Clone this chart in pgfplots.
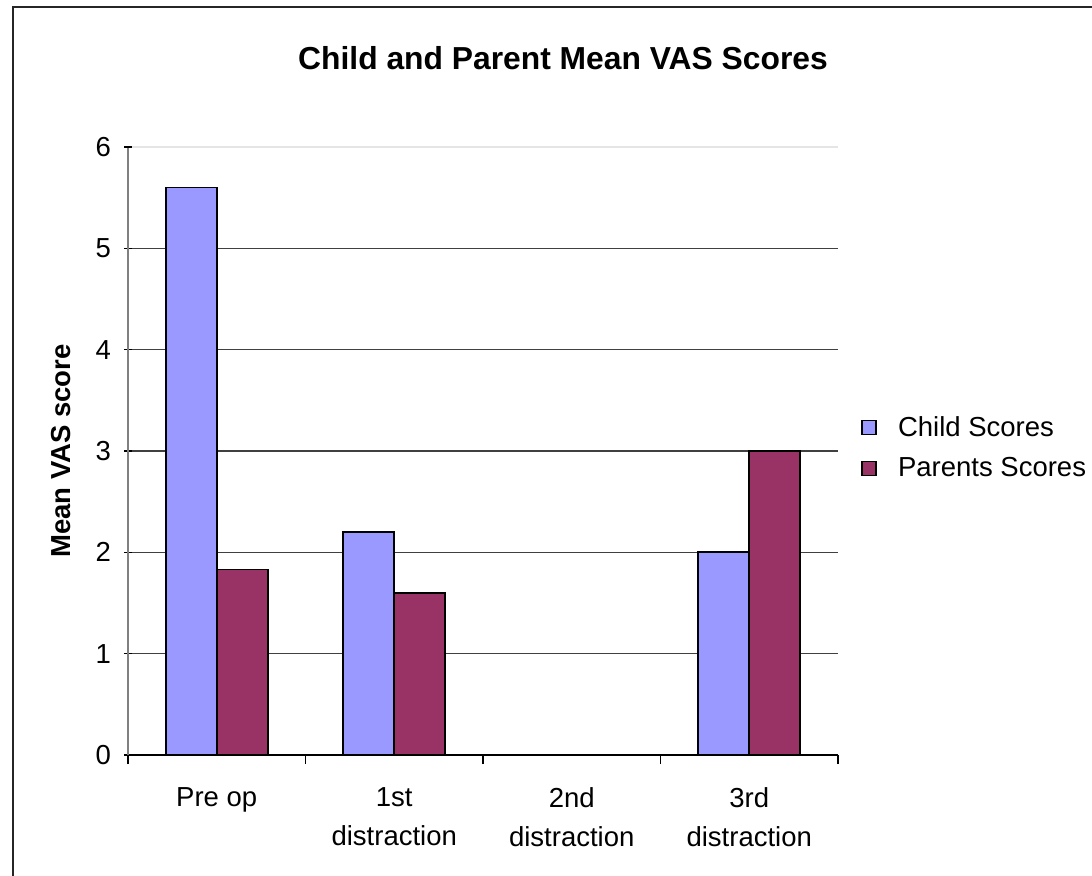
\documentclass[border=0pt]{standalone}
\usepackage{fontspec}
\setmainfont{Liberation Sans}
\usepackage{pgfplots}
\pgfplotsset{compat=1.18}
\definecolor{child}{HTML}{9999FF}
\definecolor{parent}{HTML}{993366}
\begin{document}
\begin{tikzpicture}
\useasboundingbox (0pt,0pt) rectangle (546pt,-438pt);
\draw[line width=0.7pt, black!85] (6.5pt,-450pt) -- (6.5pt,-3.5pt) -- (560pt,-3.5pt);
\node[font=\fontsize{15.9pt}{18pt}\selectfont\bfseries] at (281.5pt,-29pt) {Child and Parent Mean VAS Scores};
\begin{axis}[
  at={(64pt,-377.5pt)}, anchor=south west,
  scale only axis, width=355pt, height=304pt,
  xmin=-0.5, xmax=3.5, ymin=0, ymax=6,
  ytick={0,1,2,3,4,5},
  extra y ticks={6},
  extra y tick style={grid style={black!10, line width=0.55pt}},
  xtick={0,1,2,3},
  xticklabels={Pre op,{1st\\distraction},{2nd\\distraction},{3rd\\distraction}},
  minor xtick={-0.5,0.5,1.5,2.5,3.5},
  major x tick style={draw=none},
  minor x tick style={black, line width=0.6pt},
  y tick style={black, line width=0.6pt},
  tick align=outside,
  major tick length=4pt, minor tick length=4.5pt,
  axis y line=left, axis x line=bottom,
  x axis line style={-, black, line width=0.6pt},
  y axis line style={-, black!50, line width=0.8pt},
  ymajorgrids, grid style={black!75, line width=0.55pt},
  /pgf/number format/assume math mode=true,
  tick label style={font=\fontsize{13.75pt}{19.5pt}\selectfont},
  xticklabel style={align=center, yshift=-9pt},
  yticklabel style={xshift=-3pt},
  ylabel={Mean VAS score},
  ylabel style={font=\fontsize{13.75pt}{16pt}\selectfont\bfseries, yshift=1.5pt},
  ybar=0pt, bar width=0.2873,
  legend style={draw=none, at={(1.024,0.505)}, anchor=west,
    font=\fontsize{13.75pt}{16pt}\selectfont, row sep=5pt},
  legend cell align=left,
  legend image code/.code={\draw[#1, line width=0.6pt] (0pt,-3.5pt) rectangle (7pt,3.5pt); \path[draw=none,fill=none] (0pt,0pt) -- (16pt,0pt);},
]
\addplot[fill=child, draw=black, line width=0.9pt] coordinates {(0,5.6) (1,2.2) (2,0) (3,2.0)};
\addplot[fill=parent, draw=black, line width=0.9pt] coordinates {(0,1.83) (1,1.6) (2,0) (3,3.0)};
\legend{Child Scores, Parents Scores}
\end{axis}
\end{tikzpicture}
\end{document}
